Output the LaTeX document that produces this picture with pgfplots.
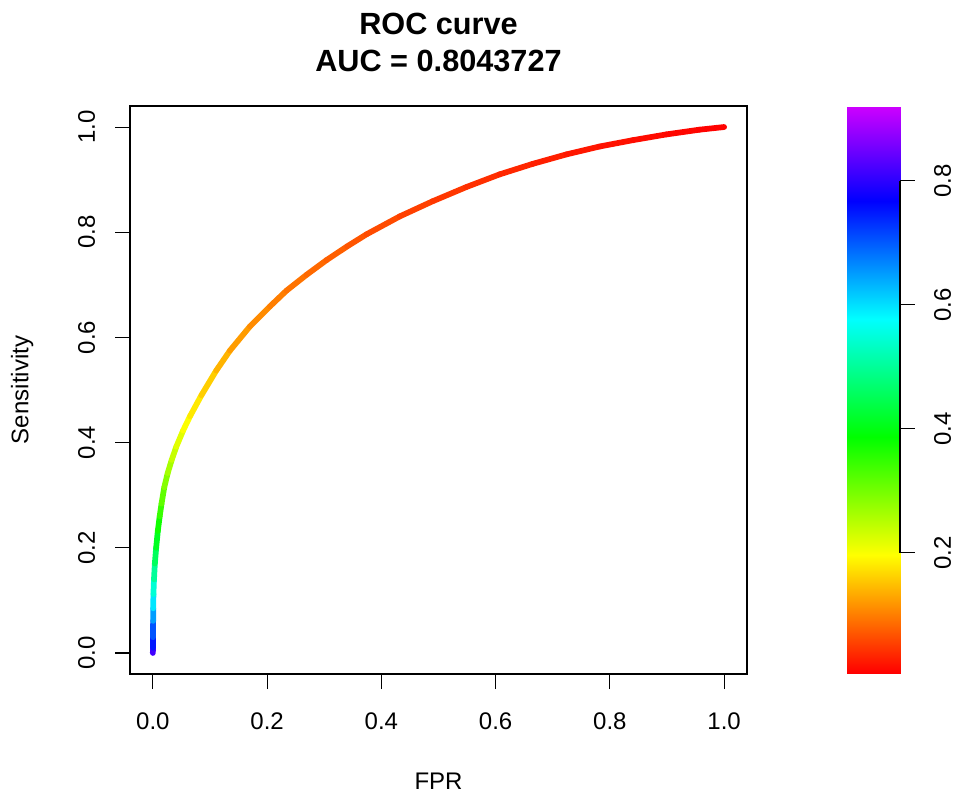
\documentclass[border=0pt]{standalone}
\usepackage{fontspec}
\setmainfont{Liberation Sans}
\usepackage{pgfplots}
\pgfplotsset{compat=1.18}

% rainbow(start=0, end=0.8) as in ROCR colorize: hue 0..288 deg
\pgfplotsset{
  colormap={rocr}{rgb255(0pt)=(255,0,0) rgb255(60pt)=(255,255,0)
    rgb255(120pt)=(0,255,0) rgb255(180pt)=(0,255,255)
    rgb255(240pt)=(0,0,255) rgb255(288pt)=(204,0,255)},
}
\newcommand\lbl{\fontsize{18}{18}\selectfont}

\begin{document}
\begin{tikzpicture}
\useasboundingbox (-97.5pt,-89.25pt) rectangle (621.75pt,505.5pt);

% ROC curve
\begin{axis}[
  at={(0,0)}, anchor=south west,
  scale only axis,
  width=462.75pt, height=426pt,
  xmin=-0.04, xmax=1.04, ymin=-0.04, ymax=1.04,
  xtick={0,0.2,0.4,0.6,0.8,1},
  xticklabels={0.0,0.2,0.4,0.6,0.8,1.0},
  ytick={0,0.2,0.4,0.6,0.8,1},
  yticklabels={0.0,0.2,0.4,0.6,0.8,1.0},
  tick pos=left, tick align=outside,
  major tick length=11.25pt,
  tick style={black, line width=0.8pt},
  axis line style={line width=0.8pt},
  ticklabel style={font=\lbl, inner sep=0pt},
  xticklabel style={anchor=north, outer ysep=18pt},
  yticklabel style={rotate=90, anchor=south, outer ysep=15pt},
  colormap name=rocr, point meta min=0.006, point meta max=0.919,
  title={ROC curve\\AUC = 0.8043727},
  xlabel={FPR}, ylabel={Sensitivity},
  every axis title/.style={at={(axis description cs:0.5,1)}, anchor=south,
    yshift=25.5pt, align=center, inner sep=0pt,
    font=\fontsize{23}{27.75}\selectfont\bfseries},
  every axis x label/.style={at={(axis description cs:0.5,-0.2042)},
    anchor=base, inner sep=0pt, font=\lbl},
  every axis y label/.style={at={(axis description cs:-0.1645,0.5)},
    anchor=base, rotate=90, inner sep=0pt, font=\lbl},
]
% (FPR, TPR) [cutoff]
\addplot[mesh, point meta=explicit, line width=4.3pt, line cap=round, line join=round]
  coordinates {
  (0,0) [0.86]
  (0.0002,0.01) [0.77]
  (0.0003,0.03) [0.73]
  (0.0005,0.061) [0.68]
  (0.0007,0.085) [0.62]
  (0.001,0.112) [0.57]
  (0.002,0.14) [0.52]
  (0.0035,0.17) [0.48]
  (0.0058,0.2) [0.43]
  (0.0087,0.232) [0.39]
  (0.012,0.26) [0.36]
  (0.0152,0.284) [0.33]
  (0.020,0.315) [0.30]
  (0.026,0.342) [0.275]
  (0.033,0.367) [0.25]
  (0.041,0.392) [0.228]
  (0.053,0.423) [0.207]
  (0.065,0.450) [0.19]
  (0.085,0.490) [0.17]
  (0.111,0.537) [0.15]
  (0.135,0.575) [0.13]
  (0.170,0.621) [0.115]
  (0.205,0.659) [0.105]
  (0.234,0.689) [0.095]
  (0.269,0.719) [0.088]
  (0.304,0.747) [0.08]
  (0.340,0.773) [0.073]
  (0.374,0.796) [0.066]
  (0.432,0.830) [0.058]
  (0.490,0.859) [0.05]
  (0.549,0.886) [0.044]
  (0.607,0.910) [0.038]
  (0.665,0.930) [0.032]
  (0.724,0.948) [0.026]
  (0.782,0.963) [0.021]
  (0.840,0.975) [0.016]
  (0.899,0.986) [0.012]
  (0.957,0.995) [0.009]
  (1,1) [0.006]
  };
\end{axis}

% colour key
\begin{axis}[
  at={(537.75pt,0.75pt)}, anchor=south west,
  scale only axis, clip=false,
  width=39.75pt, height=424.5pt,
  xmin=0, xmax=1, ymin=0.006, ymax=0.919,
  axis line style={draw=none},
  xtick=\empty,
  ytick={0.2,0.4,0.6,0.8},
  yticklabels={0.2,0.4,0.6,0.8},
  ytick pos=right, yticklabel pos=right,
  tick align=outside, major tick length=11.25pt,
  ytick style={draw=none},
  ticklabel style={font=\lbl, inner sep=0pt},
  yticklabel style={rotate=90, anchor=north, outer ysep=14.25pt},
  colormap name=rocr, point meta min=0.006, point meta max=0.919,
]
\addplot[surf, shader=interp, point meta=explicit, mesh/cols=2] coordinates {
  (0,0.006) [0.006] (1,0.006) [0.006]
  (0,0.1962) [0.1962] (1,0.1962) [0.1962]
  (0,0.3864) [0.3864] (1,0.3864) [0.3864]
  (0,0.5766) [0.5766] (1,0.5766) [0.5766]
  (0,0.7668) [0.7668] (1,0.7668) [0.7668]
  (0,0.919) [0.919] (1,0.919) [0.919]
};
% axis line and outward ticks on the right of the key
\draw[line width=0.8pt] (axis cs:1,0.2) -- (axis cs:1,0.8);
\pgfplotsinvokeforeach{0.2,0.4,0.6,0.8}{
  \draw[line width=0.8pt] (axis cs:1,#1) -- ([xshift=11.25pt]axis cs:1,#1);
}
\end{axis}
\end{tikzpicture}
\end{document}
